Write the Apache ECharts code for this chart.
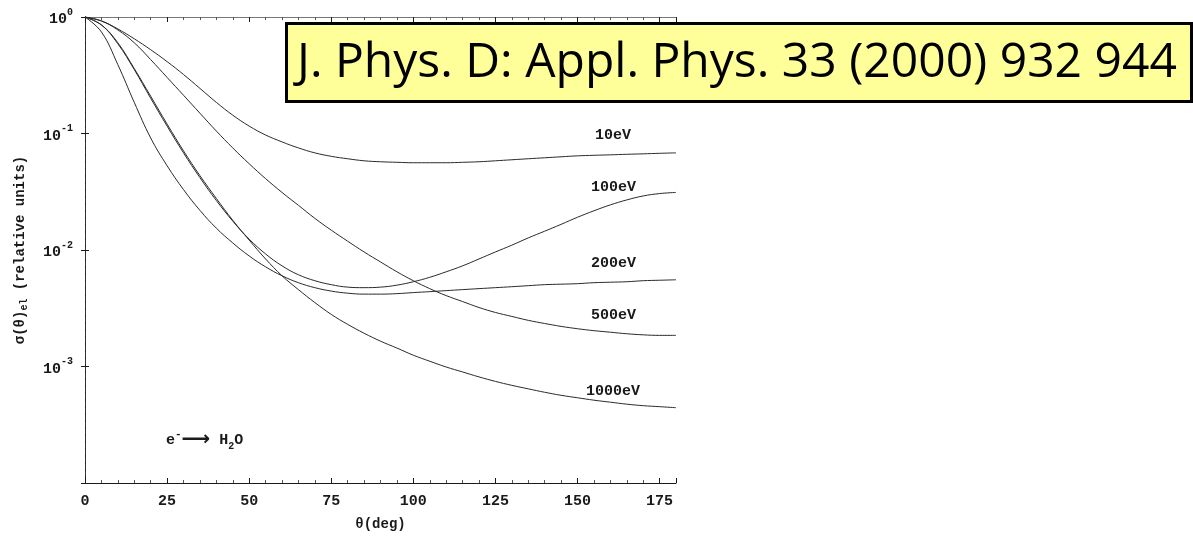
<!DOCTYPE html>
<html>
<head>
<meta charset="utf-8">
<script src="https://cdn.jsdelivr.net/npm/echarts@6/dist/echarts.min.js"></script>
<style>
  html, body { margin: 0; padding: 0; background: #fff; }
  #chart { width: 1193px; height: 536px; }
</style>
</head>
<body>
<div id="chart"></div>
<script>
// scattering angle (deg), every 5 degrees
const theta = [0, 5, 10, 15, 20, 25, 30, 35, 40, 45, 50, 55, 60, 65, 70, 75, 80, 85, 90,
  95, 100, 105, 110, 115, 120, 125, 130, 135, 140, 145, 150, 155, 160, 165, 170, 175, 180]

// relative elastic cross sections
const s10 = [1, 0.925, 0.790, 0.650, 0.524, 0.414, 0.321, 0.244, 0.185, 0.1437, 0.1158, 0.0971, 0.0847,
  0.0752, 0.0682, 0.0637, 0.0607, 0.0583, 0.0572, 0.0566, 0.0561, 0.0561, 0.0561, 0.0566, 0.0572,
  0.0583, 0.0595, 0.0607, 0.0619, 0.0631, 0.0643, 0.0650, 0.0656, 0.0663, 0.0669, 0.0676, 0.0682]
const s100 = [1, 0.855, 0.589, 0.354, 0.201, 0.1158, 0.0682, 0.0418, 0.0266, 0.0177, 0.0124, 0.00925, 0.00731,
  0.00613, 0.00545, 0.00504, 0.00480, 0.00475, 0.00480, 0.00499, 0.00534, 0.00583, 0.00650, 0.00731, 0.00838,
  0.00962, 0.0110, 0.0127, 0.0145, 0.0166, 0.0191, 0.0217, 0.0244, 0.0269, 0.0291, 0.0305, 0.0312]
const s200 = [1, 0.745, 0.390, 0.185, 0.0916, 0.0529, 0.0330, 0.0219, 0.0154, 0.0115, 0.00889, 0.00717, 0.00601,
  0.00524, 0.00475, 0.00444, 0.00426, 0.00418, 0.00418, 0.00422, 0.00431, 0.00439, 0.00448, 0.00457, 0.00466,
  0.00475, 0.00484, 0.00494, 0.00504, 0.00509, 0.00514, 0.00524, 0.00529, 0.00534, 0.00545, 0.00550, 0.00555]
const s500 = [1, 0.925, 0.775, 0.601, 0.431, 0.303, 0.213, 0.1494, 0.1050, 0.0752, 0.0550, 0.0410, 0.0312,
  0.0242, 0.0187, 0.0148, 0.0119, 0.00962, 0.00790, 0.00650, 0.00545, 0.00466, 0.00406, 0.00361, 0.00321,
  0.00291, 0.00269, 0.00249, 0.00234, 0.00221, 0.00211, 0.00203, 0.00197, 0.00191, 0.00187, 0.00185, 0.00185]
const s1000 = [1, 0.855, 0.601, 0.361, 0.209, 0.1205, 0.0710, 0.0435, 0.0277, 0.0180, 0.01216, 0.00838, 0.00601,
  0.00457, 0.00354, 0.00280, 0.00230, 0.00193, 0.00165, 0.00144, 0.00125, 0.00111, 0.000990, 0.000898, 0.000814,
  0.000745, 0.000689, 0.000643, 0.000601, 0.000566, 0.000539, 0.000514, 0.000494, 0.000475, 0.000461, 0.000452, 0.000443]

const energyLabels = ['10eV', '100eV', '200eV', '500eV', '1000eV']
const seriesValues = [s10, s100, s200, s500, s1000]

const mono = '"Liberation Mono", "DejaVu Sans Mono", monospace'
const ink = '#1a1a1a'

const chart = echarts.init(document.getElementById('chart'), null, { renderer: 'canvas' })

function pairs(values) {
  return theta.map((t, i) => [t, values[i]])
}

const series = seriesValues.map((vals, i) => ({
  name: energyLabels[i],
  type: 'line',
  data: pairs(vals),
  smooth: 0.4,
  showSymbol: false,
  lineStyle: { color: '#2a2a2a', width: 1 },
  emphasis: { disabled: true },
  z: 3
}))

// label positions next to the curve ends
const labelPos = [[595, 137], [591, 189], [591, 265], [591, 317], [586, 393]]

const xBase = {
  type: 'value',
  min: 0,
  max: 180,
  interval: 25,
  splitLine: { show: false },
  axisLine: { show: true, lineStyle: { color: ink, width: 1 } },
  axisTick: { show: true, inside: true, length: 5, lineStyle: { color: ink } },
  minorTick: { show: true, splitNumber: 5, length: 3, lineStyle: { color: '#555' } }
}

const yBase = {
  type: 'log',
  logBase: 10,
  min: 0.0001,
  max: 1,
  splitLine: { show: false },
  axisTick: { show: true, inside: true, length: 4, lineStyle: { color: ink } }
}

const option = {
  animation: false,
  backgroundColor: '#fff',
  grid: { left: 85, top: 17, right: 517, bottom: 49 },
  xAxis: [
    {
      ...xBase,
      position: 'bottom',
      name: 'θ(deg)',
      nameLocation: 'middle',
      nameGap: 34,
      nameTextStyle: { fontFamily: mono, fontSize: 14, fontWeight: 'bold', color: ink },
      axisLabel: {
        margin: 11,
        showMaxLabel: false,
        fontFamily: mono,
        fontSize: 15,
        fontWeight: 'bold',
        color: ink
      }
    },
    {
      ...xBase,
      position: 'top',
      axisLine: { show: true, lineStyle: { color: '#777', width: 1 } },
      axisLabel: { show: false }
    }
  ],
  yAxis: [
    {
      ...yBase,
      position: 'left',
      axisLine: { show: true, lineStyle: { color: ink, width: 1 } },
      name: '{m|σ(θ)}{sub|el}{m| (relative units)}',
      nameLocation: 'middle',
      nameGap: 56,
      nameTextStyle: {
        rich: {
          m: { fontFamily: mono, fontSize: 14, fontWeight: 'bold', color: ink, lineHeight: 18 },
          sub: { fontFamily: mono, fontSize: 10, fontWeight: 'bold', color: ink, verticalAlign: 'bottom', lineHeight: 18 }
        }
      },
      axisLabel: {
        margin: 12,
        formatter: v => {
          const e = Math.round(Math.log10(v))
          if (e < -3) return ''
          return '{b|10}{s|' + e + '}'
        },
        rich: {
          b: { fontFamily: mono, fontSize: 15, fontWeight: 'bold', color: ink, lineHeight: 20, verticalAlign: 'bottom' },
          s: { fontFamily: mono, fontSize: 10, fontWeight: 'bold', color: ink, lineHeight: 20, verticalAlign: 'top' }
        }
      }
    },
    {
      ...yBase,
      position: 'right',
      axisLine: { show: true, lineStyle: { color: '#333', width: 1, type: [5, 2] } },
      axisLabel: { show: false }
    }
  ],
  series: series,
  graphic: [
    ...energyLabels.map((t, i) => ({
      type: 'text',
      left: labelPos[i][0],
      top: labelPos[i][1] - 9,
      z: 10,
      style: { text: t, fontFamily: mono, fontSize: 15, fontWeight: 'bold', fill: ink }
    })),
    {
      type: 'text',
      left: 166,
      top: 429,
      z: 10,
      style: {
        text: '{m|e}{sup|-}{a|⟶}{m| H}{sub|2}{m|O}',
        rich: {
          m: { fontFamily: mono, fontSize: 15, fontWeight: 'bold', fill: ink, lineHeight: 22 },
          a: { fontFamily: '"DejaVu Sans"', fontSize: 20, fontWeight: 'bold', fill: ink, lineHeight: 22 },
          sup: { fontFamily: mono, fontSize: 11, fontWeight: 'bold', fill: ink, lineHeight: 22, verticalAlign: 'top' },
          sub: { fontFamily: mono, fontSize: 10, fontWeight: 'bold', fill: ink, lineHeight: 22, verticalAlign: 'bottom' }
        }
      }
    },
    {
      type: 'rect',
      z: 20,
      shape: { x: 286.5, y: 23.5, width: 905, height: 78 },
      style: { fill: '#ffff99', stroke: '#000', lineWidth: 3 }
    },
    {
      type: 'text',
      z: 21,
      x: 297,
      y: 63,
      style: {
        text: 'J. Phys. D: Appl. Phys. 33 (2000) 932 944',
        fontFamily: '"Open Sans"',
        fontSize: 48,
        fill: '#000',
        verticalAlign: 'middle'
      }
    }
  ]
}

chart.setOption(option)
</script>
</body>
</html>
